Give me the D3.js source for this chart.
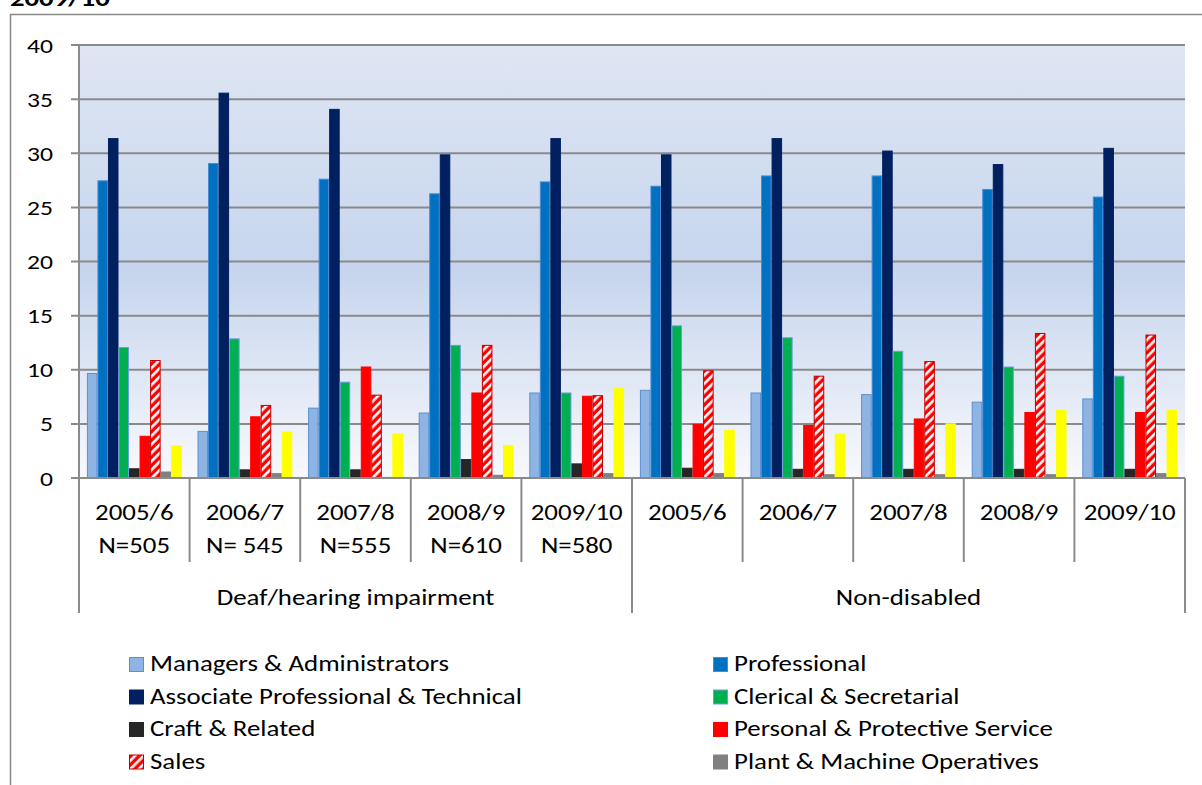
<!DOCTYPE html>
<html>
<head>
<meta charset="utf-8">
<script src="https://cdn.jsdelivr.net/npm/d3@7"></script>
<style>
  body { margin: 0; background: #fff; }
  svg { display: block; font-family: Calibri, Carlito, Lato, sans-serif; fill: #000; }
</style>
</head>
<body>
<svg width="1202" height="785"></svg>
<script>
// categories (two level x axis)
const groups = ['Deaf/hearing impairment', 'Non-disabled']
const years = ['2005/6', '2006/7', '2007/8', '2008/9', '2009/10', '2005/6', '2006/7', '2007/8', '2008/9', '2009/10']
const sampleSizes = ['N=505', 'N= 545', 'N=555', 'N=610', 'N=580', '', '', '', '', '']
const groupOf = [0, 0, 0, 0, 0, 1, 1, 1, 1, 1]
const yTicks = [0, 5, 10, 15, 20, 25, 30, 35, 40]

// series values (% in each occupation group)
const managers = [9.7, 4.35, 6.5, 6.05, 7.9, 8.15, 7.9, 7.75, 7.05, 7.35]
const professional = [27.5, 29.1, 27.65, 26.3, 27.4, 27.0, 27.95, 27.95, 26.7, 26.0]
const associate = [31.4, 35.6, 34.1, 29.9, 31.4, 29.9, 31.4, 30.25, 29.0, 30.5]
const clerical = [12.1, 12.9, 8.9, 12.3, 7.9, 14.1, 13.0, 11.75, 10.3, 9.45]
const craft = [0.9, 0.8, 0.8, 1.75, 1.35, 0.95, 0.85, 0.85, 0.85, 0.85]
const personal = [3.9, 5.7, 10.3, 7.9, 7.6, 5.0, 4.9, 5.5, 6.1, 6.1]
const sales = [10.9, 6.75, 7.7, 12.3, 7.65, 9.95, 9.45, 10.8, 13.4, 13.25]
const plant = [0.6, 0.45, 0.1, 0.3, 0.45, 0.45, 0.35, 0.35, 0.35, 0.45]
const other = [3.0, 4.3, 4.1, 3.05, 8.3, 4.45, 4.1, 5.05, 6.3, 6.3]

const series = [
  { name: 'Managers & Administrators', values: managers, fill: '#8db4e2', stroke: '#5b8fd3' },
  { name: 'Professional', values: professional, fill: '#0070c0', stroke: '#4a8ad6' },
  { name: 'Associate Professional & Technical', values: associate, fill: '#002060', stroke: '#002060' },
  { name: 'Clerical & Secretarial', values: clerical, fill: '#00b050', stroke: '#6a9ee0' },
  { name: 'Craft & Related', values: craft, fill: '#262626', stroke: '#262626' },
  { name: 'Personal & Protective Service', values: personal, fill: '#ff0000', stroke: '#ff0000' },
  { name: 'Sales', values: sales, fill: 'url(#salesHatch)', stroke: '#c00000' },
  { name: 'Plant & Machine Operatives', values: plant, fill: '#808080', stroke: '#808080' },
  // yellow series: its legend row is below the visible part of the picture
  { name: 'Other Occupations', values: other, fill: '#ffff00', stroke: '#ffff00', noLegend: true }
]

const svg = d3.select('svg')
const plot = { left: 79, right: 1185, top: 45, bottom: 478 }
// the source picture is stretched sideways, do the same with the text
const stretch = 1.25

// places a text with its anchor at (x, y) and stretches it sideways
function place (sel, fx, fy) {
  sel.attr('x', 0).attr('y', 0)
    .attr('transform', function (d, i) { return 'translate(' + fx(d, i) + ',' + fy(d, i) + ') scale(' + stretch + ',1)' })
}

const defs = svg.append('defs')
// plot area background gradient
const grad = defs.append('linearGradient').attr('id', 'plotBg')
  .attr('x1', 0).attr('y1', 0).attr('x2', 0).attr('y2', 1)
grad.append('stop').attr('offset', '0%').attr('stop-color', '#dfe6f4')
grad.append('stop').attr('offset', '52%').attr('stop-color', '#c6d5ed')
grad.append('stop').attr('offset', '100%').attr('stop-color', '#f8f9fd')

// red / white diagonal stripes for Sales
const hatch = defs.append('pattern').attr('id', 'salesHatch')
  .attr('patternUnits', 'userSpaceOnUse')
  .attr('width', 6).attr('height', 6)
  .attr('patternTransform', 'rotate(45)')
hatch.append('rect').attr('width', 6).attr('height', 6).attr('fill', '#ff0000')
hatch.append('rect').attr('width', 2.6).attr('height', 6).attr('fill', '#ffffff')

// cut-off title from the page above the chart
svg.append('text')
  .style('font-size', '23px').style('font-weight', 'bold')
  .text('2009/10')
  .call(place, () => 10, () => 5.5)

// chart area frame (runs off the bottom and right of the picture)
svg.append('rect')
  .attr('x', 10.5).attr('y', 14.5)
  .attr('width', 1300).attr('height', 900)
  .attr('fill', 'none').attr('stroke', '#888').attr('stroke-width', 1.5)

const x = d3.scaleBand().domain(d3.range(years.length)).range([plot.left, plot.right])
// 9 bars per cluster, gap width 150% split on both sides
const xs = d3.scaleBand().domain(d3.range(series.length)).range([0, x.bandwidth()])
  .paddingInner(0).paddingOuter(0.75)
const y = d3.scaleLinear().domain([0, 40]).range([plot.bottom, plot.top])

svg.append('rect')
  .attr('x', plot.left).attr('y', plot.top)
  .attr('width', plot.right - plot.left).attr('height', plot.bottom - plot.top)
  .attr('fill', 'url(#plotBg)')

// gridlines + tick marks
svg.append('g').selectAll('line')
  .data(yTicks.filter(d => d > 0))
  .enter().append('line')
  .attr('x1', plot.left - 8).attr('x2', plot.right)
  .attr('y1', d => y(d)).attr('y2', d => y(d))
  .attr('stroke', '#8a8a8a').attr('stroke-width', 2)

svg.append('g').selectAll('text')
  .data(yTicks)
  .enter().append('text')
  .attr('text-anchor', 'end')
  .style('font-size', '20.5px')
  .text(d => d)
  .call(place, () => 53, d => y(d) + 7.5)

// bars
const clusters = svg.append('g').selectAll('g')
  .data(series)
  .enter().append('g')

clusters.selectAll('rect')
  .data((s, si) => s.values.map((v, i) => ({ v: v, i: i, si: si, s: s })))
  .enter().append('rect')
  .attr('x', d => x(d.i) + xs(d.si) + 0.5)
  .attr('y', d => y(d.v) + 0.5)
  .attr('width', xs.bandwidth() - 1)
  .attr('height', d => Math.max(0, y(0) - y(d.v) - 0.5))
  .attr('fill', d => d.s.fill)
  .attr('stroke', d => d.s.stroke)
  .attr('stroke-width', 1)

// value axis + category axis lines
const axisCol = '#8a8a8a'
svg.append('line')
  .attr('x1', plot.left).attr('x2', plot.left).attr('y1', plot.top).attr('y2', 613)
  .attr('stroke', axisCol).attr('stroke-width', 2)
svg.append('line')
  .attr('x1', plot.left - 8).attr('x2', plot.right).attr('y1', plot.bottom).attr('y2', plot.bottom)
  .attr('stroke', axisCol).attr('stroke-width', 2)

// dividers between categories: short ones inside a group, long ones between groups
const bounds = d3.range(years.length + 1)
svg.append('g').selectAll('line')
  .data(bounds.slice(1))
  .enter().append('line')
  .attr('x1', d => d < years.length ? x(d) : plot.right)
  .attr('x2', d => d < years.length ? x(d) : plot.right)
  .attr('y1', plot.bottom)
  .attr('y2', d => (d === years.length || groupOf[d] !== groupOf[d - 1]) ? 613 : 562)
  .attr('stroke', axisCol).attr('stroke-width', 2)

const cat = svg.append('g').style('font-size', '21.5px').attr('text-anchor', 'middle')
cat.selectAll('text.year')
  .data(years)
  .enter().append('text')
  .attr('class', 'year')
  .text(d => d)
  .call(place, (d, i) => x(i) + x.bandwidth() / 2, () => 520)
cat.selectAll('text.n')
  .data(sampleSizes)
  .enter().append('text')
  .attr('class', 'n')
  .text(d => d)
  .call(place, (d, i) => x(i) + x.bandwidth() / 2, () => 553)
cat.selectAll('text.grp')
  .data(groups)
  .enter().append('text')
  .attr('class', 'grp')
  .text(d => d)
  .call(place, (d, gi) => {
    const idx = d3.range(years.length).filter(i => groupOf[i] === gi)
    return (x(idx[0]) + x(idx[idx.length - 1]) + x.bandwidth()) / 2
  }, () => 605)

// legend, two columns, filled left to right
const legendItems = series.filter(s => !s.noLegend)
const leg = svg.append('g').selectAll('g')
  .data(legendItems)
  .enter().append('g')
  .attr('transform', (d, i) => 'translate(' + (i % 2 === 0 ? 129 : 713) + ',' + (671 + Math.floor(i / 2) * 32.5) + ')')
leg.append('rect')
  .attr('x', 0.5).attr('y', -13.5)
  .attr('width', 14).attr('height', 14)
  .attr('fill', d => d.fill).attr('stroke', d => d.stroke)
leg.append('text')
  .style('font-size', '21.5px')
  .text(d => d.name)
  .call(place, () => 21, () => 0)
</script>
</body>
</html>
